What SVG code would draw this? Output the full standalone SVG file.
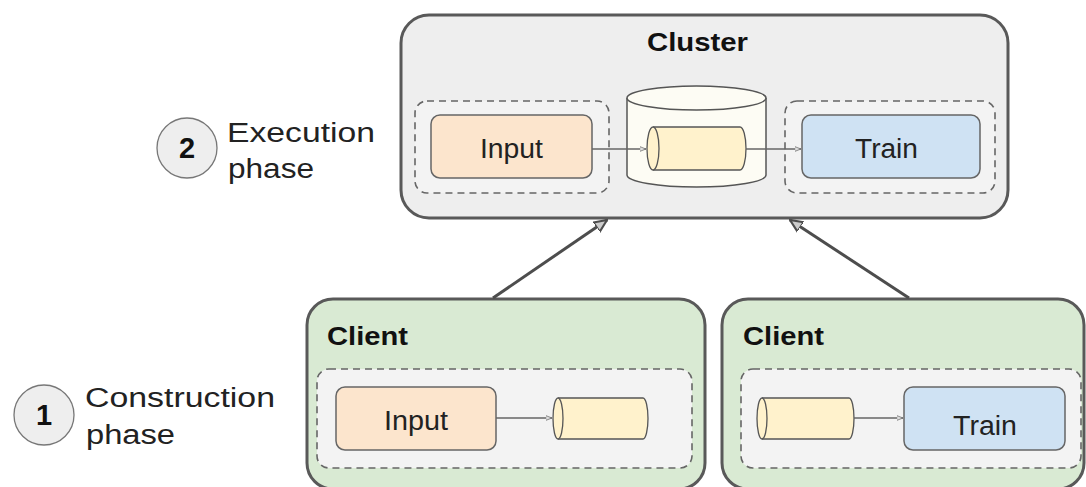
<svg xmlns="http://www.w3.org/2000/svg" width="1086" height="487" viewBox="0 0 1086 487">
<defs>
<style>
.outer{stroke:#595959;stroke-width:3}
.cluster{fill:#eeeeee}
.client{fill:#d9ead3}
.dash{fill:#f3f3f3;stroke:#666;stroke-width:1.6;stroke-dasharray:7 5}
.input{fill:#fce5cd;stroke:#666;stroke-width:1.5}
.train{fill:#cfe2f3;stroke:#666;stroke-width:1.5}
.cyl{fill:#fff2cc;stroke:#555;stroke-width:1.3}
.db{fill:#fdfcf4;stroke:#555;stroke-width:1.5}
.lbl{font-family:"Liberation Sans",Arial,sans-serif;font-size:27px;fill:#222}
.title{font-family:"Liberation Sans",Arial,sans-serif;font-size:26px;font-weight:bold;fill:#111}
.phase{font-family:"Liberation Sans",Arial,sans-serif;font-size:27px;fill:#222}
.num{font-family:"Liberation Sans",Arial,sans-serif;font-size:29px;font-weight:bold;fill:#111}
.step{fill:#eeeeee;stroke:#777;stroke-width:1.3}
.thin{stroke:#666;stroke-width:1.3;fill:none}
.thick{stroke:#4d4d4d;stroke-width:3;fill:none}
</style>
<marker id="sa" viewBox="0 0 10 10" refX="9" refY="5" markerWidth="7" markerHeight="7" orient="auto" markerUnits="userSpaceOnUse">
<path d="M0,1.5 L9,5 L0,8.5 Z" fill="#ddd" stroke="#666" stroke-width="1"/>
</marker>
<marker id="la" viewBox="0 0 10 10" refX="9" refY="5" markerWidth="14" markerHeight="14" orient="auto" markerUnits="userSpaceOnUse">
<path d="M0,1 L9,5 L0,9 Z" fill="#ccc" stroke="#4d4d4d" stroke-width="1.5"/>
</marker>
</defs>
<rect width="1086" height="487" fill="#ffffff"/>

<g id="phase2">
<circle cx="187" cy="148" r="30" class="step"/>
<text x="187" y="158" text-anchor="middle" class="num">2</text>
<text x="227" y="142" class="phase" textLength="148" lengthAdjust="spacingAndGlyphs">Execution</text>
<text x="228" y="178" class="phase" textLength="86" lengthAdjust="spacingAndGlyphs">phase</text>
</g>

<g id="phase1">
<circle cx="44" cy="415" r="30" class="step"/>
<text x="44" y="425" text-anchor="middle" class="num">1</text>
<text x="85" y="407" class="phase" textLength="190" lengthAdjust="spacingAndGlyphs">Construction</text>
<text x="86" y="444" class="phase" textLength="89" lengthAdjust="spacingAndGlyphs">phase</text>
</g>

<g id="cluster">
<rect x="401" y="15" width="607" height="203" rx="28" class="outer cluster"/>
<text x="647" y="51" class="title" textLength="101" lengthAdjust="spacingAndGlyphs">Cluster</text>
<rect x="415" y="101" width="194" height="92" rx="12" class="dash"/>
<rect x="785" y="101" width="210" height="92" rx="12" class="dash"/>
<g id="cluster-input">
<rect x="431" y="115" width="161" height="63" rx="9" class="input"/>
<text x="480" y="158" class="lbl" textLength="63" lengthAdjust="spacingAndGlyphs">Input</text>
</g>
<g id="cluster-queue">
<path d="M627,98 L627,175 A69.5,12 0 0 0 766,175 L766,98" class="db"/>
<ellipse cx="696.5" cy="98" rx="69.5" ry="12" class="db"/>
<path d="M653,127 L740,127 A6,21.5 0 0 1 740,170 L653,170" class="cyl"/>
<ellipse cx="653" cy="148.5" rx="6" ry="21.5" class="cyl"/>
</g>
<g id="cluster-train">
<rect x="802" y="115" width="178" height="63" rx="9" class="train"/>
<text x="855" y="158" class="lbl" textLength="63" lengthAdjust="spacingAndGlyphs">Train</text>
</g>
</g>

<g id="client1">
<rect x="307" y="299" width="398" height="190" rx="26" class="outer client"/>
<text x="327" y="345" class="title" textLength="81" lengthAdjust="spacingAndGlyphs">Client</text>
<rect x="317" y="369" width="375" height="99" rx="12" class="dash"/>
<g id="client1-input">
<rect x="336" y="387" width="160" height="63" rx="9" class="input"/>
<text x="384" y="430" class="lbl" textLength="64" lengthAdjust="spacingAndGlyphs">Input</text>
</g>
<g id="client1-queue">
<path d="M558,398 L643,398 A5,20.5 0 0 1 643,439 L558,439" class="cyl"/>
<ellipse cx="558" cy="418.5" rx="5" ry="20.5" class="cyl"/>
</g>
</g>

<g id="client2">
<rect x="722" y="299" width="362" height="190" rx="26" class="outer client"/>
<text x="743" y="345" class="title" textLength="81" lengthAdjust="spacingAndGlyphs">Client</text>
<rect x="741" y="369" width="340" height="99" rx="12" class="dash"/>
<g id="client2-queue">
<path d="M762,398 L849,398 A5,20.5 0 0 1 849,439 L762,439" class="cyl"/>
<ellipse cx="762" cy="418.5" rx="5" ry="20.5" class="cyl"/>
</g>
<g id="client2-train">
<rect x="904" y="387" width="161" height="63" rx="9" class="train"/>
<text x="953" y="435" class="lbl" textLength="64" lengthAdjust="spacingAndGlyphs">Train</text>
</g>
</g>

<g id="connectors">
<line x1="592" y1="149" x2="646" y2="149" class="thin" marker-end="url(#sa)"/>
<line x1="746" y1="149" x2="801" y2="149" class="thin" marker-end="url(#sa)"/>
<line x1="496" y1="418" x2="552" y2="418" class="thin" marker-end="url(#sa)"/>
<line x1="854" y1="418" x2="903" y2="418" class="thin" marker-end="url(#sa)"/>
<line x1="493" y1="298" x2="607" y2="220" class="thick" marker-end="url(#la)"/>
<line x1="909" y1="298" x2="790" y2="220" class="thick" marker-end="url(#la)"/>
</g>
</svg>
